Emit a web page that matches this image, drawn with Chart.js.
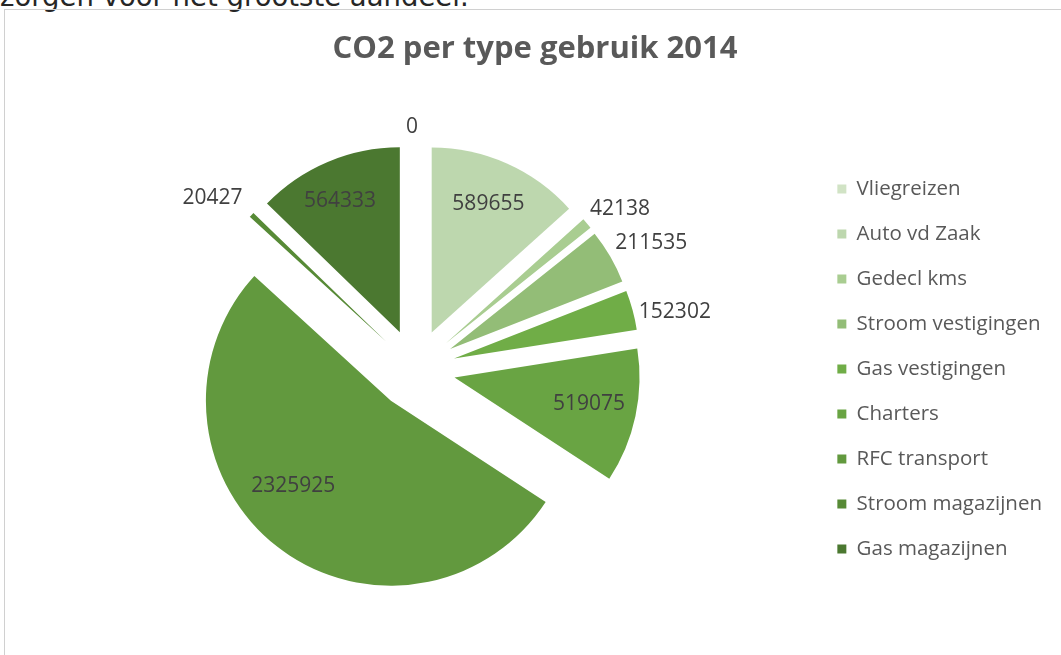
<!DOCTYPE html>
<html>
<head>
<meta charset="utf-8">
<script src="https://cdn.jsdelivr.net/npm/chart.js@4.4.1/dist/chart.umd.min.js"></script>
<style>
  html, body { margin: 0; padding: 0; background: #fff; overflow: hidden; }
  body { width: 1061px; height: 655px; position: relative; }
  .lead { position: absolute; left: 0; top: -17px; font: 27.5px/26px "DejaVu Sans", sans-serif; color: #262626; white-space: nowrap; }
  .frame { position: absolute; left: 4px; top: 9px; width: 1100px; height: 700px; border: 1px solid #d0d0d0; }
  #chart { position: absolute; left: 0; top: 0; }
</style>
</head>
<body>
<div class="lead">zorgen voor het grootste aandeel.</div>
<div class="frame"></div>
<canvas id="chart" width="1061" height="655"></canvas>
<script>
/* ── Data ───────────────────────────────────────────────── */
const categories = ['Vliegreizen', 'Auto vd Zaak', 'Gedecl kms', 'Stroom vestigingen',
                    'Gas vestigingen', 'Charters', 'RFC transport', 'Stroom magazijnen', 'Gas magazijnen'];
const co2Values  = [0, 589655, 42138, 211535, 152302, 519075, 2325925, 20427, 564333];

/* ── Styles ─────────────────────────────────────────────── */
const sliceColors = ['#d1e3c5', '#bdd7ae', '#a9cd91', '#93bd77', '#70ad47',
                     '#69a443', '#62993e', '#578a36', '#4b7830'];
const EXPLODE = 40;   // px each slice is pulled out along its middle
/* label placement per slice: [angle nudge in degrees, distance as share of radius] */
const labelPlace = [[-1, 1.095], [-0.2, 0.76], [2.6, 1.19], [2.1, 1.23], [3.3, 1.22],
                    [-1.1, 0.74], [11.1, 0.70], [-3.6, 1.22], [-1.5, 0.78]];
const FONT = '"Open Sans", "Noto Sans", sans-serif';

/* pulls every arc out from the centre, then writes the value labels */
const explodeAndLabel = {
  id: 'explodeAndLabel',
  beforeDatasetsDraw(chart) {
    const arcs = chart.getDatasetMeta(0).data;
    arcs.forEach(a => {
      const mid = (a.startAngle + a.endAngle) / 2;
      a._bx = a.x; a._by = a.y;
      a.x += Math.cos(mid) * EXPLODE;
      a.y += Math.sin(mid) * EXPLODE;
    });
  },
  afterDatasetsDraw(chart) {
    const ctx  = chart.ctx;
    const arcs = chart.getDatasetMeta(0).data;
    ctx.save();
    ctx.font = '21px ' + FONT;
    ctx.fillStyle = '#404040';
    ctx.textAlign = 'center';
    ctx.textBaseline = 'middle';
    arcs.forEach((a, i) => {
      const [da, frac] = labelPlace[i];
      const ang = (a.startAngle + a.endAngle) / 2 + da * Math.PI / 180;
      const r = a.outerRadius * frac;
      ctx.fillText(String(co2Values[i]), a.x + Math.cos(ang) * r, a.y + Math.sin(ang) * r);
    });
    ctx.restore();
    arcs.forEach(a => { a.x = a._bx; a.y = a._by; });
  }
};

new Chart(document.getElementById('chart'), {
  type: 'pie',
  data: {
    labels: categories,
    datasets: [{
      data: co2Values,
      backgroundColor: sliceColors,
      borderWidth: 0,
      hoverOffset: 0,
      clip: false
    }]
  },
  options: {
    responsive: false,
    animation: false,
    events: [],
    radius: 185,
    layout: { padding: { left: 18, right: 9, top: 0, bottom: 23 } },
    plugins: {
      title: {
        display: true,
        text: 'CO2 per type gebruik 2014',
        color: '#595959',
        font: { family: FONT, size: 31, weight: 'bold', lineHeight: 1.2 },
        padding: { top: 31, bottom: 38 }
      },
      legend: {
        position: 'right',
        fullSize: false,
        labels: {
          color: '#595959',
          font: { family: FONT, size: 20.5 },
          boxWidth: 9,
          boxHeight: 9,
          padding: 24.5
        }
      },
      tooltip: { enabled: false }
    }
  },
  plugins: [explodeAndLabel]
});
</script>
</body>
</html>
